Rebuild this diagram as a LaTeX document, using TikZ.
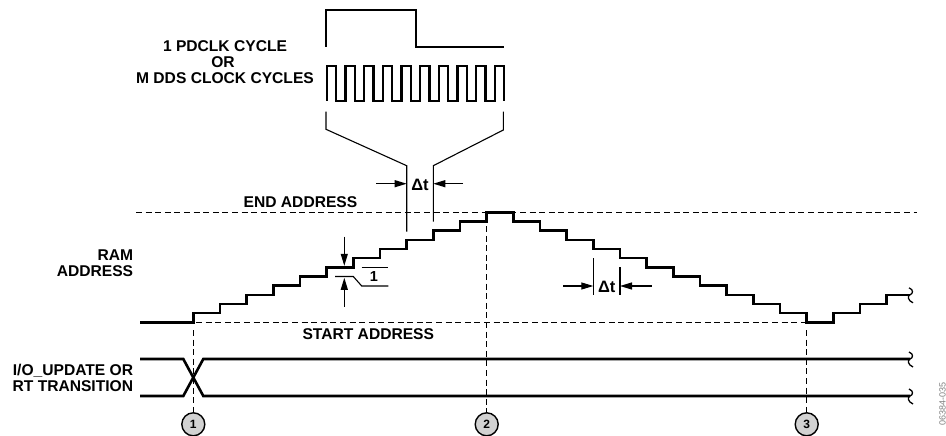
\documentclass[tikz,border=0pt]{standalone}
\usepackage{fontspec}
\setmainfont{Liberation Sans}
\usetikzlibrary{arrows.meta}
\begin{document}
\begin{tikzpicture}[x=1pt,y=-1pt,
  wave/.style={line width=2.6pt, line join=miter},
  clk/.style={line width=2.3pt, line join=miter},
  thinl/.style={line width=1.1pt},
  dsh/.style={line width=1pt, dash pattern=on 6pt off 3.6pt},
  arr/.style={line width=1.1pt, -{Triangle[length=12pt,width=7pt]}},
  lbl/.style={font=\fontsize{15.6}{16}\selectfont\bfseries, inner sep=0pt},
  dlbl/.style={font=\fontsize{16.5}{17}\selectfont\bfseries, inner sep=0pt},
  marker/.style={circle, draw, line width=1.4pt, fill=gray!35, minimum size=23pt, inner sep=0pt, font=\fontsize{12}{12}\selectfont\bfseries},
  squig/.pic={\draw[line width=1.3pt] (-1,-7) .. controls (4,-5) and (3,-1) .. (0,0) .. controls (-3,1) and (-2,6) .. (3,8);}
]
\useasboundingbox (0,0) rectangle (946,436);

% ---- clocks
\draw[clk] (326,46.7) -- (326,10) -- (415.7,10) -- (415.7,46.7) -- (504,46.7);
\def\hh{9.3158}
\draw[clk] (327,101) \foreach \i in {0,...,9} { -- ({327+2*\i*\hh},101) -- ({327+2*\i*\hh},66) -- ({327+(2*\i+1)*\hh},66) -- ({327+(2*\i+1)*\hh},101) };

% ---- funnel
\coordinate (fl1) at (326,111.7);
\coordinate (fl2) at (326,129.3);
\coordinate (fl3) at (406.7,165.7);
\coordinate (fl4) at (406.7,231.7);
\coordinate (fr1) at (503.3,111.7);
\coordinate (fr2) at (503.3,130);
\coordinate (fr3) at (433.3,165.7);
\coordinate (fr4) at (433.3,221.7);
\draw[thinl] (fl1) -- (fl2) -- (fl3) -- (fl4);
\draw[thinl] (fr1) -- (fr2) -- (fr3) -- (fr4);
\coordinate (a1s) at (376,183.7);
\coordinate (a1e) at (406.7,183.7);
\coordinate (a2s) at (463,183.7);
\coordinate (a2e) at (433.3,183.7);
\draw[arr] (a1s) -- (a1e);
\draw[arr] (a2s) -- (a2e);
\node[dlbl, anchor=base] (dt1) at (420,190) {Δt};

% ---- texts
\node[lbl, anchor=base] (t1) at (225,51.3) {1 PDCLK CYCLE};
\node[lbl, anchor=base] (t2) at (223,67.3) {OR};
\node[lbl, anchor=base] (t3) at (225,83.3) {M DDS CLOCK CYCLES};
\node[lbl, anchor=base] (endl) at (300.5,207.6) {END ADDRESS};
\node[lbl, anchor=base] (startl) at (368.3,339.6) {START ADDRESS};
\node[lbl, anchor=base east] (ram1) at (133.3,260.6) {RAM};
\node[lbl, anchor=base east] (ram2) at (133.3,276.3) {ADDRESS};
\node[lbl, anchor=base east] (io1) at (133.3,375.2) {I/O\_UPDATE OR};
\node[lbl, anchor=base east] (io2) at (133.3,391.5) {RT TRANSITION};

% ---- dashed reference lines
\coordinate (ea1) at (136,212.3);
\coordinate (ea2) at (916.7,212.3);
\coordinate (sa1) at (196,322.3);
\coordinate (sa2) at (806.7,322.3);
\draw[dsh] (ea1) -- (ea2);
\draw[dsh] (sa1) -- (sa2);

% ---- staircase
\def\sw{26.6667}
\def\sh{9.1667}
\draw[wave] (140,322.3)
  \foreach \i in {1,...,12} { -- ({193.333+(\i-1)*\sw},{322.3-(\i-1)*\sh}) -- ({193.333+(\i-1)*\sw},{322.3-\i*\sh}) }
  \foreach \j in {1,...,12} { -- ({513.333+(\j-1)*\sw},{322.3-(13-\j)*\sh}) -- ({513.333+(\j-1)*\sw},{322.3-(12-\j)*\sh}) }
  \foreach \k in {1,...,3} { -- ({833.333+(\k-1)*\sw},{322.3-(\k-1)*\sh}) -- ({833.333+(\k-1)*\sw},{322.3-\k*\sh}) }
  -- (910,{322.3-3*\sh}) coordinate (sqend);
\pic at (sqend) {squig};

% ---- "1" LSB annotation
\coordinate (u1) at (344.3,236.7);
\coordinate (u2) at (344.3,265.8);
\coordinate (d1) at (344.3,306.7);
\coordinate (d2) at (344.3,277.8);
\draw[arr] (u1) -- (u2);
\draw[arr] (d1) -- (d2);
\draw[thinl] (361.7,267.3) -- (388.3,267.3);
\draw[thinl] (335,276.5) -- (353.3,276.5) -- (361.7,286) -- (388.3,286);
\node[font=\fontsize{14.5}{15}\selectfont\bfseries, inner sep=0pt, anchor=base] (one) at (374,281.8) {1};

% ---- lower delta t
\draw[thinl] (593.3,258.3) -- (593.3,295);
\draw[thinl] (620,267) -- (620,295);
\coordinate (b1s) at (563.3,286);
\coordinate (b1e) at (593.3,286);
\coordinate (b2s) at (651.7,286);
\coordinate (b2e) at (620,286);
\draw[arr] (b1s) -- (b1e);
\draw[arr] (b2s) -- (b2e);
\node[dlbl, anchor=base] (dt2) at (606.7,292.3) {Δt};

% ---- transition signal
\draw[wave] (140,359) -- (183.3,359) -- (203.3,396) -- (910,396) coordinate (lo);
\draw[wave] (140,396) -- (183.3,396) -- (203.3,359) -- (910,359) coordinate (hi);
\pic at (hi) {squig};
\pic at (lo) {squig};

% ---- markers
\node[marker] (m1) at (193.3,424.3) {1};
\node[marker] (m2) at (486.7,424.3) {2};
\node[marker] (m3) at (806.7,424.3) {3};
\draw[dsh] (193.3,330) -- (m1.north);
\draw[dsh] (486.7,226) -- (m2.north);
\draw[dsh] (806.7,330) -- (m3.north);

% ---- figure code
\node[rotate=90, font=\fontsize{9}{9}\selectfont, text=gray, inner sep=0pt] (code) at (942.5,404) {06384-035};
\end{tikzpicture}
\end{document}
